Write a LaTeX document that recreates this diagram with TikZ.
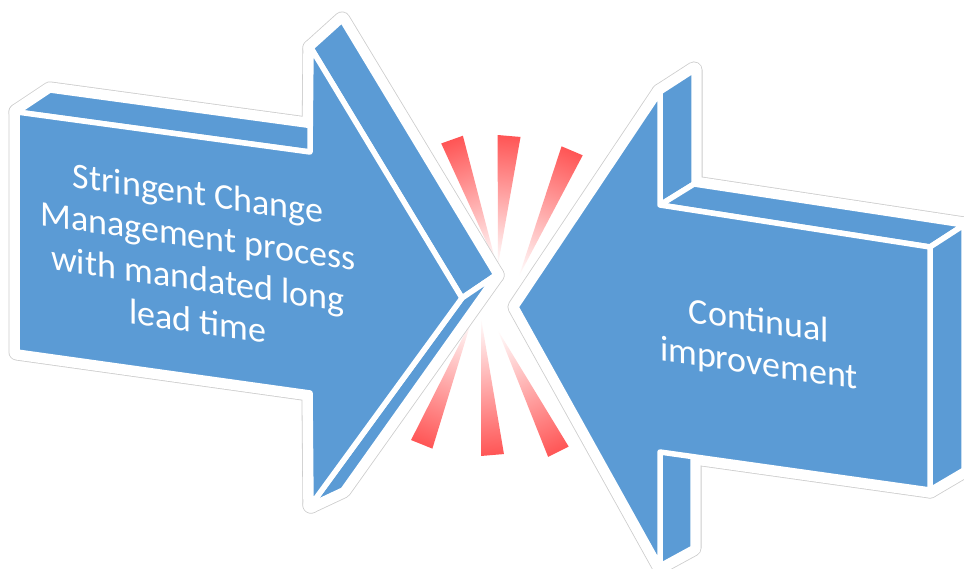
\documentclass[tikz,border=0pt]{standalone}
\usepackage{fontspec}
\setmainfont{Carlito}
\definecolor{arrowblue}{HTML}{5B9BD5}
\definecolor{rayred}{RGB}{255,85,85}
\definecolor{glowgray}{RGB}{205,205,205}
\tikzset{
  glowA/.style={draw=glowgray, fill=white, line width=17pt, line join=round},
  glowB/.style={draw=white, fill=white, line width=15.4pt, line join=round},
  face/.style={fill=arrowblue, draw=white, line width=5.5pt, line join=round},
  arrowtext/.style={text=white, align=center, inner sep=0pt,
    font=\fontsize{36}{42.7}\selectfont, yslant=-0.145},
  rayshade/.style={top color=rayred, middle color=rayred!40!white, bottom color=white}
}
\newcommand\myray[4]{%
  \shade[rayshade, transform canvas={shift={(#1,#2)},rotate=#3}]
    (-11.5pt,#4pt) -- (11.5pt,#4pt) -- (0pt,0pt) -- cycle;}
\newcommand\leftfaces[1]{%
  \path[#1] (A1) -- (A2) -- (A2b) -- (A1b) -- cycle;
  \path[#1] (A3) -- (A4) -- (A4b) -- (A3b) -- cycle;
  \path[#1] (A4) -- (A5) -- (A5b) -- (A4b) -- cycle;
  \path[#1] (A1) -- (A2) -- (A3) -- (A4) -- (A5) -- (A6) -- (A7) -- cycle;}
\newcommand\rightfaces[1]{%
  \path[#1] (B2) -- (B3) -- (B3b) -- (B2b) -- cycle;
  \path[#1] (B3) -- (B4) -- (B4b) -- (B3b) -- cycle;
  \path[#1] (B4) -- (B5) -- (B5b) -- (B4b) -- cycle;
  \path[#1] (B6) -- (B7) -- (B7b) -- (B6b) -- cycle;
  \path[#1] (B1) -- (B2) -- (B3) -- (B4) -- (B5) -- (B6) -- (B7) -- cycle;}
\begin{document}
\begin{tikzpicture}[x=1pt,y=-1pt]
\fill[white] (0,0) rectangle (964,568);
\useasboundingbox (0,0) rectangle (964,568);
% left arrow geometry (front and back points)
\coordinate (A1) at (17,112);
\coordinate (A2) at (310,152);
\coordinate (A3) at (311,48);
\coordinate (A4) at (462,298);
\coordinate (A5) at (311,505);
\coordinate (A6) at (310,393);
\coordinate (A7) at (17,352);
\coordinate (A1b) at (50,90);
\coordinate (A2b) at (343,130);
\coordinate (A3b) at (342,20);
\coordinate (A4b) at (496,275);
\coordinate (A5b) at (343,490);
% right arrow geometry
\coordinate (B1) at (516,307);
\coordinate (B2) at (660,92);
\coordinate (B3) at (660,205);
\coordinate (B4) at (930,247);
\coordinate (B5) at (930,490);
\coordinate (B6) at (660,452);
\coordinate (B7) at (660,566);
\coordinate (B2b) at (694,70);
\coordinate (B3b) at (694,184);
\coordinate (B4b) at (964,225);
\coordinate (B5b) at (964,470);
\coordinate (B6b) at (693,430);
\coordinate (B7b) at (693,548);
% burst rays
\myray{496}{263}{19.6}{131}
\myray{498}{265}{-4.9}{129.5}
\myray{519}{276}{-23}{136}
\myray{471.7}{320}{158.1}{134}
\myray{481}{318}{184.8}{137.5}
\myray{497.7}{330}{-153.5}{136}
% glow
\leftfaces{glowA}
\rightfaces{glowA}
\leftfaces{glowB}
\rightfaces{glowB}
% faces
\leftfaces{face}
\rightfaces{face}
% texts
\node[arrowtext] (lefttext) at (198,257) {Stringent Change\\Management process\\with mandated long\\lead time};
\node[arrowtext] (righttext) at (759,344) {Continual\\improvement};
\end{tikzpicture}
\end{document}
